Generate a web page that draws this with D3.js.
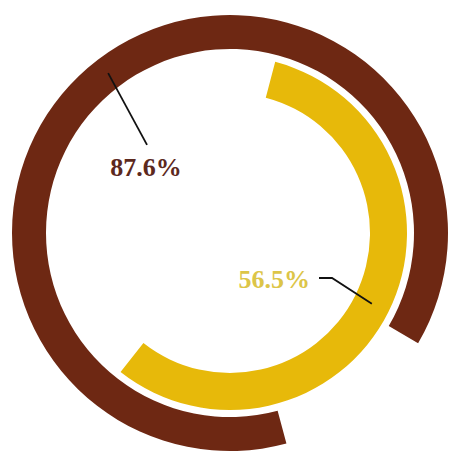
<!DOCTYPE html>
<html>
<head>
<meta charset="utf-8">
<script src="https://cdn.jsdelivr.net/npm/d3@7"></script>
<style>
html,body{margin:0;padding:0;background:#fff;}
svg{display:block;}
</style>
</head>
<body>
<svg id="chart" width="450" height="455"></svg>
<script>
// Data
const categories = ["outer", "inner"];
const values = [87.6, 56.5];          // percent of full circle
const labels = ["87.6%", "56.5%"];

// Layout / style
const W = 450, H = 455;
const cx = 230, cy = 233;
const rings = [
  {inner: 184, outer: 218, start: 165, color: "#6e2813", text: "#5c291e"},
  {inner: 140, outer: 177, start: 14.8, color: "#e7b90a", text: "#dcc548"}
];
const labelLayout = [
  {elbowR: 121, elbowA: 316.7, tail: 0, tx: 146, ty: 176, anchor: "middle"},
  {elbowR: 111.5, elbowA: 113.8, tail: -13, tx: 310, ty: 288, anchor: "end"}
];

const svg = d3.select("#chart");
const g = svg.append("g").attr("transform", `translate(${cx},${cy})`);
const rad = d => d * Math.PI / 180;
const pct = d3.scaleLinear().domain([0, 100]).range([0, 2 * Math.PI]);
const polar = (r, aDeg) => [r * Math.sin(rad(aDeg)), -r * Math.cos(rad(aDeg))];

values.forEach((v, i) => {
  const ring = rings[i];
  const a0 = rad(ring.start);
  const a1 = a0 + pct(v);
  const arc = d3.arc().innerRadius(ring.inner).outerRadius(ring.outer)
    .startAngle(a0).endAngle(a1);
  g.append("path").attr("class", "ring " + categories[i])
    .attr("d", arc()).attr("fill", ring.color);

  // leader line from arc middle
  const midDeg = (a0 + a1) / 2 * 180 / Math.PI;
  const p0 = polar((ring.inner + ring.outer) / 2, midDeg);
  const L = labelLayout[i];
  const p1 = polar(L.elbowR, L.elbowA);
  const pts = [p0, p1];
  if (L.tail) pts.push([p1[0] + L.tail, p1[1]]);
  g.append("path")
    .attr("d", d3.line()(pts))
    .attr("fill", "none").attr("stroke", "#111").attr("stroke-width", 1.8);

  svg.append("text")
    .attr("x", L.tx).attr("y", L.ty)
    .attr("text-anchor", L.anchor)
    .attr("font-family", "'Liberation Serif','Times New Roman',serif")
    .attr("font-weight", "bold").attr("font-size", 26)
    .attr("fill", ring.text)
    .text(labels[i]);
});
</script>
</body>
</html>
